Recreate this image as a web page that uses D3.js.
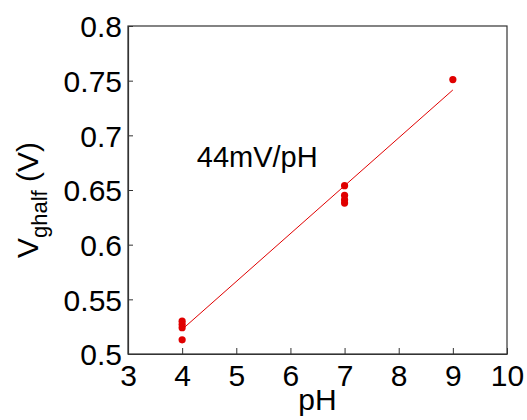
<!DOCTYPE html>
<html>
<head>
<meta charset="utf-8">
<script src="https://cdn.jsdelivr.net/npm/d3@7"></script>
<style>
  body { margin: 0; background: #fff; }
  text { font-family: "Liberation Sans", Arial, sans-serif; fill: #000; }
</style>
</head>
<body>
<div id="chart"></div>
<script>
// data
const phValues = [4, 4, 4, 4, 7, 7, 7, 7, 9];
const vHalf = [0.530, 0.527, 0.524, 0.513, 0.654, 0.645, 0.641, 0.638, 0.751];
const fitLine = [[4, 0.5225], [9, 0.7415]];
const xTicks = [3, 4, 5, 6, 7, 8, 9, 10];
const yTicks = [0.5, 0.55, 0.6, 0.65, 0.7, 0.75, 0.8];
const slopeLabel = "44mV/pH";

// Set Dimensions
const width = 527, height = 420;
const margin = {top: 26, right: 20, bottom: 66, left: 128};
const xMax = width - margin.left - margin.right;
const yMax = height - margin.top - margin.bottom;

var svg = d3.select("#chart")
  .append("svg")
  .attr("width", width)
  .attr("height", height)
  .append("g")
  .attr("transform", "translate(" + margin.left + "," + margin.top + ")");

var xScale = d3.scaleLinear().domain([3, 10]).range([0, xMax]);
var yScale = d3.scaleLinear().domain([0.5, 0.8]).range([yMax, 0]);

// box
svg.append("rect")
  .attr("x", 0).attr("y", 0)
  .attr("width", xMax).attr("height", yMax)
  .attr("fill", "none")
  .attr("stroke", "#333")
  .attr("stroke-width", 1.2);

// X Axis (ticks point inward)
var xAxis = svg.append("g")
  .attr("transform", "translate(0," + yMax + ")")
  .call(d3.axisBottom(xScale).tickValues(xTicks).tickSizeInner(-6).tickSizeOuter(0).tickPadding(10).tickFormat(d3.format("d")));
xAxis.select(".domain").attr("stroke", "#333").attr("stroke-width", 1.2);
xAxis.selectAll("line").attr("stroke", "#333");
xAxis.selectAll("text").attr("font-size", 30).attr("font-family", null).attr("dy", "0.72em");

// Y Axis
var yAxis = svg.append("g")
  .call(d3.axisLeft(yScale).tickValues(yTicks).tickSizeInner(-5).tickSizeOuter(0).tickPadding(6).tickFormat(d => d3.format("")(d)));
yAxis.select(".domain").attr("stroke", "#333").attr("stroke-width", 1.2);
yAxis.selectAll("line").attr("stroke", "#333");
yAxis.selectAll("text").attr("font-size", 30).attr("font-family", null).attr("dy", "0.36em");

// fit line
var line = d3.line()
  .x(function(d) { return xScale(d[0]); })
  .y(function(d) { return yScale(d[1]); });

svg.append("path")
  .datum(fitLine)
  .attr("d", line)
  .attr("stroke", "#e00000")
  .attr("stroke-width", 1)
  .attr("fill", "none");

// dots
svg.selectAll("circle")
  .data(phValues.map((p, i) => [p, vHalf[i]]))
  .enter()
  .append("circle")
    .attr("cx", d => xScale(d[0]))
    .attr("cy", d => yScale(d[1]))
    .attr("r", 3.6)
    .attr("fill", "#e00000");

// slope annotation
svg.append("text")
  .attr("x", xScale(4.27))
  .attr("y", yScale(0.671))
  .attr("font-size", 29)
  .text(slopeLabel);

// axis titles
svg.append("text")
  .attr("x", xMax / 2)
  .attr("y", height - margin.top - 10)
  .attr("text-anchor", "middle")
  .attr("font-size", 30)
  .text("pH");

var yTitle = svg.append("text")
  .attr("transform", "translate(" + (38 - margin.left) + "," + (yMax / 2 + 10) + ") rotate(-90)")
  .attr("text-anchor", "middle")
  .attr("font-size", 30);
yTitle.append("tspan").text("V");
yTitle.append("tspan").attr("font-size", 22).attr("dy", 9).text("ghalf");
yTitle.append("tspan").attr("dy", -9).text(" (V)");
</script>
</body>
</html>
